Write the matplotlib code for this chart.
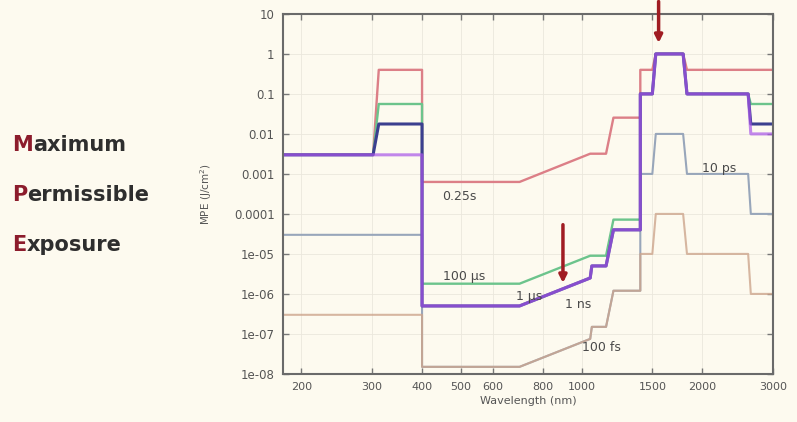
import matplotlib
matplotlib.use("Agg")
import matplotlib.pyplot as plt
from matplotlib.ticker import FixedLocator, FixedFormatter, NullLocator

# MPE curves (J/cm^2) versus wavelength (nm)
wl_025s = [180, 302, 312, 400, 400, 700, 1050, 1150, 1200, 1400, 1400, 1500, 1530, 1790, 1830, 3000]
mpe_025s = [3e-3, 3e-3, 0.4, 0.4, 6.3e-4, 6.3e-4, 3.2e-3, 3.2e-3, 0.0255, 0.0255, 0.4, 0.4, 1.0, 1.0, 0.4, 0.4]

wl_100us = [180, 302, 312, 400, 400, 700, 1050, 1150, 1200, 1400, 1400, 1500, 1530, 1790, 1830, 2600, 2640, 3000]
mpe_100us = [3e-3, 3e-3, 0.056, 0.056, 1.8e-6, 1.8e-6, 9e-6, 9e-6, 7.2e-5, 7.2e-5, 0.1, 0.1, 1.0, 1.0, 0.1, 0.1, 0.056, 0.056]

wl_1us = [180, 302, 312, 400, 400, 700, 1050, 1060, 1150, 1200, 1400, 1400, 1500, 1530, 1790, 1830, 2600, 2640, 3000]
mpe_1us = [3e-3, 3e-3, 0.0177, 0.0177, 5e-7, 5e-7, 2.5e-6, 5e-6, 5e-6, 4e-5, 4e-5, 0.1, 0.1, 1.0, 1.0, 0.1, 0.1, 0.0177, 0.0177]

wl_1ns = [180, 400, 400, 700, 1050, 1060, 1150, 1200, 1400, 1400, 1500, 1530, 1790, 1830, 2600, 2640, 3000]
mpe_1ns = [3e-3, 3e-3, 5e-7, 5e-7, 2.5e-6, 5e-6, 5e-6, 4e-5, 4e-5, 0.1, 0.1, 1.0, 1.0, 0.1, 0.1, 0.01, 0.01]

wl_10ps = [180, 400, 400, 700, 1050, 1060, 1150, 1200, 1400, 1400, 1500, 1530, 1790, 1830, 2600, 2640, 3000]
mpe_10ps = [3e-5, 3e-5, 1.5e-8, 1.5e-8, 7.5e-8, 1.5e-7, 1.5e-7, 1.2e-6, 1.2e-6, 1e-3, 1e-3, 1e-2, 1e-2, 1e-3, 1e-3, 1e-4, 1e-4]

wl_100fs = [180, 400, 400, 700, 1050, 1060, 1150, 1200, 1400, 1400, 1500, 1530, 1790, 1830, 2600, 2640, 3000]
mpe_100fs = [3e-7, 3e-7, 1.5e-8, 1.5e-8, 7.5e-8, 1.5e-7, 1.5e-7, 1.2e-6, 1.2e-6, 1e-5, 1e-5, 1e-4, 1e-4, 1e-5, 1e-5, 1e-6, 1e-6]

x_ticks = [200, 300, 400, 500, 600, 800, 1000, 1500, 2000, 3000]
y_ticks = [1e1, 1e0, 1e-1, 1e-2, 1e-3, 1e-4, 1e-5, 1e-6, 1e-7, 1e-8]
y_labels = ["10", "1", "0.1", "0.01", "0.001", "0.0001", "1e-05", "1e-06", "1e-07", "1e-08"]

# curve labels: text, wavelength, value
labels = [("0.25s", 449, 2.7e-4), ("100 µs", 450, 2.8e-6), ("1 µs", 685, 8.4e-7),
          ("1 ns", 908, 5.3e-7), ("10 ps", 2000, 1.4e-3), ("100 fs", 1000, 4.7e-8)]

bg = "#fdfaef"
fig = plt.figure(figsize=(7.97, 4.22), dpi=100, facecolor=bg)
ax = fig.add_axes([0.355, 0.114, 0.615, 0.853], facecolor=bg)

ax.plot(wl_10ps, mpe_10ps, color="#98a6ba", lw=1.5)
ax.plot(wl_100fs, mpe_100fs, color="#cda58c", lw=1.5, alpha=0.8)
ax.plot(wl_025s, mpe_025s, color="#dc7f87", lw=1.7)
ax.plot(wl_100us, mpe_100us, color="#6cc48c", lw=1.7)
ax.plot(wl_1us, mpe_1us, color="#3b3f8f", lw=2.2)
ax.plot(wl_1ns, mpe_1ns, color="#a855e8", lw=2.2, alpha=0.7)

ax.set_xscale("log")
ax.set_yscale("log")
ax.set_xlim(180, 3000)
ax.set_ylim(1e-8, 10)

ax.xaxis.set_major_locator(FixedLocator(x_ticks))
ax.xaxis.set_major_formatter(FixedFormatter([str(v) for v in x_ticks]))
ax.xaxis.set_minor_locator(NullLocator())
ax.yaxis.set_major_locator(FixedLocator(y_ticks))
ax.yaxis.set_major_formatter(FixedFormatter(y_labels))
ax.yaxis.set_minor_locator(NullLocator())

ax.tick_params(which="major", direction="in", length=4, width=1, color="#777777",
               top=True, right=True, labelsize=8.5, labelcolor="#555555", pad=6)
ax.tick_params(axis="x", labelsize=8)
ax.grid(True, color="#ebe7dc", lw=0.6)
for s in ax.spines.values():
    s.set_color("#6a6a6a")
    s.set_linewidth(1.5)

ax.set_xlabel("Wavelength (nm)", fontsize=8, color="#555555", labelpad=3)
ax.set_ylabel("MPE (J/cm$^2$)", fontsize=7.5, color="#555555", labelpad=14)

for txt, x, y in labels:
    ax.text(x, y, txt, fontsize=9, color="#4a4a4a", va="center", ha="left")

arrow = dict(arrowstyle="-|>", color="#a01c22", lw=2.5, mutation_scale=11)
ax.annotate("", xy=(1555, 1.6), xytext=(1555, 24), arrowprops=arrow, annotation_clip=False)
ax.annotate("", xy=(898, 1.6e-6), xytext=(898, 6.3e-5), arrowprops=arrow, annotation_clip=False)

# left title words, first letter in red
for word, ypix in [("Maximum", 145), ("Permissible", 195), ("Exposure", 245)]:
    first = fig.text(12 / 797, 1 - ypix / 422, word[0], color="#8c1c2c", fontsize=15,
                     fontweight="bold", va="center", ha="left")
    ax.annotate(word[1:], xy=(1, 0), xycoords=first, va="bottom", ha="left",
                color="#2e2e2e", fontsize=15, fontweight="bold")

fig.savefig("out.png", dpi=100, facecolor=bg)
